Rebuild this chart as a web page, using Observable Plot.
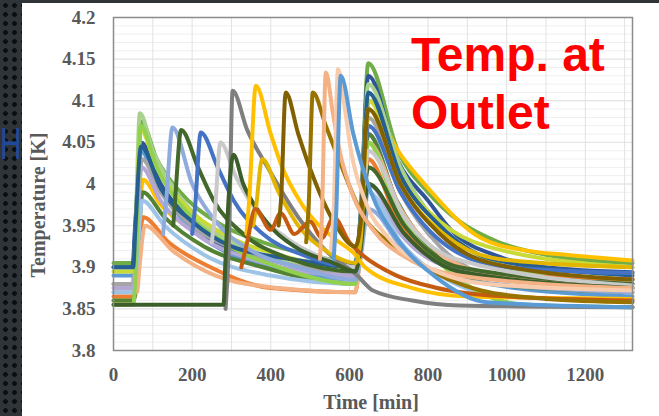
<!DOCTYPE html>
<html><head><meta charset="utf-8">
<script src="https://cdn.jsdelivr.net/npm/d3@7"></script>
<script src="https://cdn.jsdelivr.net/npm/@observablehq/plot@0.6"></script>
<style>
html,body{margin:0;padding:0;width:659px;height:416px;overflow:hidden;}
body{position:relative;background-color:#2f3439;background-image:radial-gradient(circle,#0b0d0f 2px,transparent 2.7px);background-size:9px 9px;background-position:1px 1px;}
#panel{position:absolute;left:22px;top:3px;width:637px;height:413px;background:#fff;}
#chart{position:absolute;left:22px;top:3px;}
#hglyph{position:absolute;left:0px;top:121px;font:45px "Liberation Sans",sans-serif;color:#1f4a99;transform:scaleX(0.66);transform-origin:left top;line-height:45px;}
#title{position:absolute;left:411px;top:26px;font:bold 48px/58px "Liberation Sans",sans-serif;color:#ff0000;white-space:nowrap;}
.alabel{position:absolute;font:bold 20px "Liberation Serif",serif;color:#595959;white-space:nowrap;transform:translate(-50%,-50%);}
#ylab{left:38px;top:205px;transform:translate(-50%,-50%) rotate(-90deg);}
#xlab{left:371px;top:402px;}
</style></head>
<body>
<div id="panel"></div>
<div id="hglyph">H</div>
<div id="chart"></div>
<div id="title">Temp. at<br>Outlet</div>
<div class="alabel" id="ylab">Temperature [K]</div>
<div class="alabel" id="xlab">Time [min]</div>
<script>
// ---- data: [time (min), temperature (K)] key points ----
const r01 = [[0,3.905],[50,3.905],[56,3.93],[70,4.075],[110,4.03],[170,3.99],[260,3.955],[380,3.93],[500,3.915],[615,3.905],[628,3.96],[648,4.145],[723,4.04],[800,3.99],[880,3.955],[980,3.93],[1100,3.915],[1320,3.905]];
const r02 = [[0,3.86],[50,3.86],[58,3.9],[75,4.005],[120,3.975],[200,3.945],[320,3.92],[450,3.905],[615,3.895],[628,3.95],[650,4.1],[723,4.04],[800,3.995],[935,3.935],[1050,3.92],[1150,3.915],[1320,3.908]];
const r03 = [[0,3.9],[48,3.9],[55,3.95],[70,4.05],[120,4.0],[200,3.955],[272,3.925],[400,3.91],[615,3.905],[628,3.96],[648,4.13],[723,4.028],[800,3.98],[858,3.945],[986,3.912],[1100,3.9],[1320,3.894]];
const r04 = [[0,3.88],[48,3.88],[55,3.93],[67,4.085],[100,4.04],[160,3.99],[250,3.945],[380,3.915],[500,3.9],[615,3.89],[628,3.95],[648,4.12],[730,4.02],[820,3.955],[950,3.91],[1100,3.89],[1320,3.885]];
const r05 = [[0,3.865],[55,3.865],[62,3.9],[75,3.96],[140,3.93],[247,3.9],[400,3.875],[615,3.87],[628,3.92],[648,4.03],[720,3.96],[820,3.91],[950,3.892],[1320,3.886]];
const r06 = [[0,3.89],[50,3.89],[57,3.93],[70,4.04],[110,4.0],[180,3.955],[300,3.915],[450,3.895],[615,3.885],[628,3.93],[648,4.06],[720,3.98],[820,3.915],[950,3.88],[1320,3.865]];
const r07 = [[0,3.88],[50,3.88],[58,3.92],[72,4.03],[120,3.99],[200,3.95],[320,3.92],[480,3.9],[615,3.89],[628,3.94],[648,4.08],[730,3.99],[830,3.925],[960,3.89],[1320,3.875]];
const r08 = [[0,3.86],[52,3.86],[60,3.9],[74,3.99],[130,3.96],[230,3.925],[380,3.9],[615,3.88],[628,3.93],[648,4.06],[720,3.98],[830,3.91],[960,3.88],[1320,3.87]];
const r09 = [[0,3.875],[50,3.875],[58,3.92],[71,4.02],[120,3.98],[210,3.94],[350,3.91],[615,3.89],[628,3.93],[648,4.0],[730,3.94],[860,3.9],[1320,3.88]];
const r10 = [[0,3.87],[60,3.87],[66,3.9],[80,3.95],[150,3.92],[260,3.89],[420,3.875],[615,3.87],[628,3.92],[648,4.05],[730,3.97],[850,3.91],[1000,3.888],[1320,3.88]];
const r11 = [[0,3.895],[50,3.895],[56,3.94],[69,4.065],[110,4.02],[180,3.975],[280,3.94],[420,3.915],[615,3.9],[628,3.95],[650,4.1],[730,4.01],[830,3.955],[950,3.925],[1320,3.9]];
const r12 = [[0,3.87],[52,3.87],[60,3.91],[73,3.98],[130,3.95],[230,3.915],[400,3.89],[615,3.88],[628,3.915],[648,3.99],[730,3.93],[850,3.885],[1000,3.865],[1320,3.86]];
const r13 = [[0,3.855],[50,3.855],[57,3.9],[69,4.07],[110,4.02],[180,3.97],[280,3.93],[420,3.9],[615,3.88],[628,3.93],[648,4.05],[720,3.97],[820,3.91],[930,3.87],[1050,3.855],[1320,3.852]];
const r14 = [[0,3.9],[50,3.9],[56,3.95],[70,4.045],[120,3.995],[200,3.955],[300,3.925],[450,3.91],[615,3.9],[628,3.95],[648,4.11],[730,4.01],[830,3.95],[960,3.91],[1320,3.89]];
const r15 = [[126,3.94],[134,3.98],[150,4.068],[200,4.0],[260,3.955],[350,3.92],[470,3.9],[615,3.885],[628,3.91],[648,3.97],[740,3.92],[880,3.885],[1320,3.87]];
const r16 = [[152,3.95],[158,3.99],[172,4.065],[215,4.02],[255,3.98],[330,3.94],[450,3.91],[615,3.895],[628,3.93],[648,4.02],[740,3.95],[880,3.9],[1320,3.88]];
const r17 = [[200,3.94],[207,3.97],[222,4.062],[265,4.02],[306,3.98],[380,3.94],[480,3.915],[615,3.9],[628,3.94],[648,4.07],[730,3.99],[850,3.925],[1000,3.9],[1320,3.893]];
const r18 = [[250,3.93],[257,3.96],[272,4.05],[310,4.01],[360,3.97],[440,3.935],[540,3.91],[615,3.9],[628,3.93],[648,4.04],[740,3.96],[870,3.91],[1320,3.878]];
const r19 = [[285,3.85],[293,3.92],[303,4.112],[340,4.065],[392,4.02],[470,3.96],[540,3.92],[620,3.89],[660,3.872],[760,3.86],[880,3.854],[1320,3.852]];
const r20 = [[0,3.855],[280,3.855],[284,3.9],[305,4.035],[330,4.0],[380,3.96],[460,3.925],[560,3.905],[615,3.895],[628,3.92],[648,4.0],[740,3.94],[880,3.895],[1320,3.875]];
const r21 = [[338,3.94],[345,3.98],[362,4.118],[400,4.06],[425,4.025],[480,3.975],[560,3.935],[615,3.915],[640,3.9],[760,3.875],[900,3.865],[1320,3.862]];
const r22 = [[355,3.95],[362,3.97],[378,4.03],[420,3.99],[470,3.95],[540,3.92],[615,3.905],[628,3.93],[648,4.09],[730,4.0],[840,3.94],[980,3.91],[1320,3.9]];
const r23 = [[325,3.9],[340,3.93],[360,3.97],[400,3.945],[425,3.965],[460,3.94],[500,3.955],[530,3.935],[560,3.96],[600,3.93],[630,3.916],[720,3.89],[815,3.876],[1000,3.865],[1320,3.86]];
const r24 = [[420,3.95],[426,3.98],[438,4.11],[470,4.06],[502,4.016],[560,3.955],[615,3.925],[628,3.95],[648,4.09],[730,4.0],[830,3.94],[960,3.905],[1320,3.885]];
const r25 = [[490,3.93],[496,3.97],[507,4.11],[540,4.07],[571,4.032],[637,3.96],[700,3.93],[774,3.905],[935,3.872],[1100,3.862],[1320,3.858]];
const r26 = [[525,3.91],[530,3.96],[540,4.134],[558,4.085],[575,4.04],[610,3.985],[660,3.945],[750,3.91],[880,3.89],[1320,3.875]];
const r27 = [[553,3.92],[560,3.97],[571,4.138],[590,4.085],[604,4.04],[640,3.98],[700,3.935],[800,3.9],[950,3.88],[1320,3.872]];
const r28 = [[560,3.91],[566,3.96],[578,4.13],[610,4.06],[655,3.99],[720,3.935],[815,3.89],[950,3.858],[1320,3.852]];

const runs = [r01,r02,r03,r04,r05,r06,r07,r08,r09,r10,r11,r12,r13,r14,r15,r16,r17,r18,r19,r20,r21,r22,r23,r24,r25,r26,r27,r28];
const runNames = runs.map((_, i) => "Run " + (i + 1));
const xTicks = [0, 200, 400, 600, 800, 1000, 1200];
const yTicks = [3.8, 3.85, 3.9, 3.95, 4, 4.05, 4.1, 4.15, 4.2];
const yTickLabels = ["3.8", "3.85", "3.9", "3.95", "4", "4.05", "4.1", "4.15", "4.2"];

// styles (kept apart from the data)
const runColors = ["#70AD47","#FFC000","#2F5597","#A9D18E","#ED7D31","#5B9BD5","#A5A5A5","#548235","#B4A7D6","#F4B183","#C9D936","#9DC3E6","#92D050","#255E91",
                   "#8FAADC","#43682B","#4472C4","#C9C9C9","#7F7F7F","#3B5E2B","#FFC000","#E2B600","#C55A11","#806000","#997300","#F4B183","#F8CBAD","#5B9BD5"];

const rows = runs.flatMap((pts, i) => pts.map(([t, T]) => ({run: runNames[i], t, T})));

const chart = Plot.plot({
  width: 637, height: 413,
  marginLeft: 91, marginRight: 27, marginTop: 14, marginBottom: 66,
  style: {fontFamily: '"Liberation Serif", serif', fontSize: "19px", fontWeight: "bold", color: "#595959", background: "transparent"},
  x: {domain: [0, 1320], label: null},
  y: {domain: [3.8, 4.2], label: null},
  color: {domain: runNames, range: runColors},
  marks: [
    Plot.gridY({interval: 0.01, stroke: "#efefef", strokeOpacity: 1}),
    Plot.gridY(yTicks, {stroke: "#e2e2e2", strokeOpacity: 1}),
    Plot.gridX([100,200,300,400,500,600,700,800,900,1000,1100,1200,1300], {stroke: "#e2e2e2", strokeOpacity: 1}),
    Plot.line(rows, {x: "t", y: "T", z: "run", stroke: "run", strokeWidth: 4, curve: "monotone-x", strokeLinejoin: "round"}),
    Plot.frame({stroke: "#8c8c8c", strokeWidth: 1.5}),
    Plot.axisX(xTicks, {tickSize: 0, tickPadding: 17, tickFormat: d => String(d)}),
    Plot.axisY(yTicks, {tickSize: 0, tickPadding: 18, tickFormat: d => yTickLabels[yTicks.indexOf(d)]})
  ]
});
document.getElementById("chart").appendChild(chart);
</script>
</body></html>
